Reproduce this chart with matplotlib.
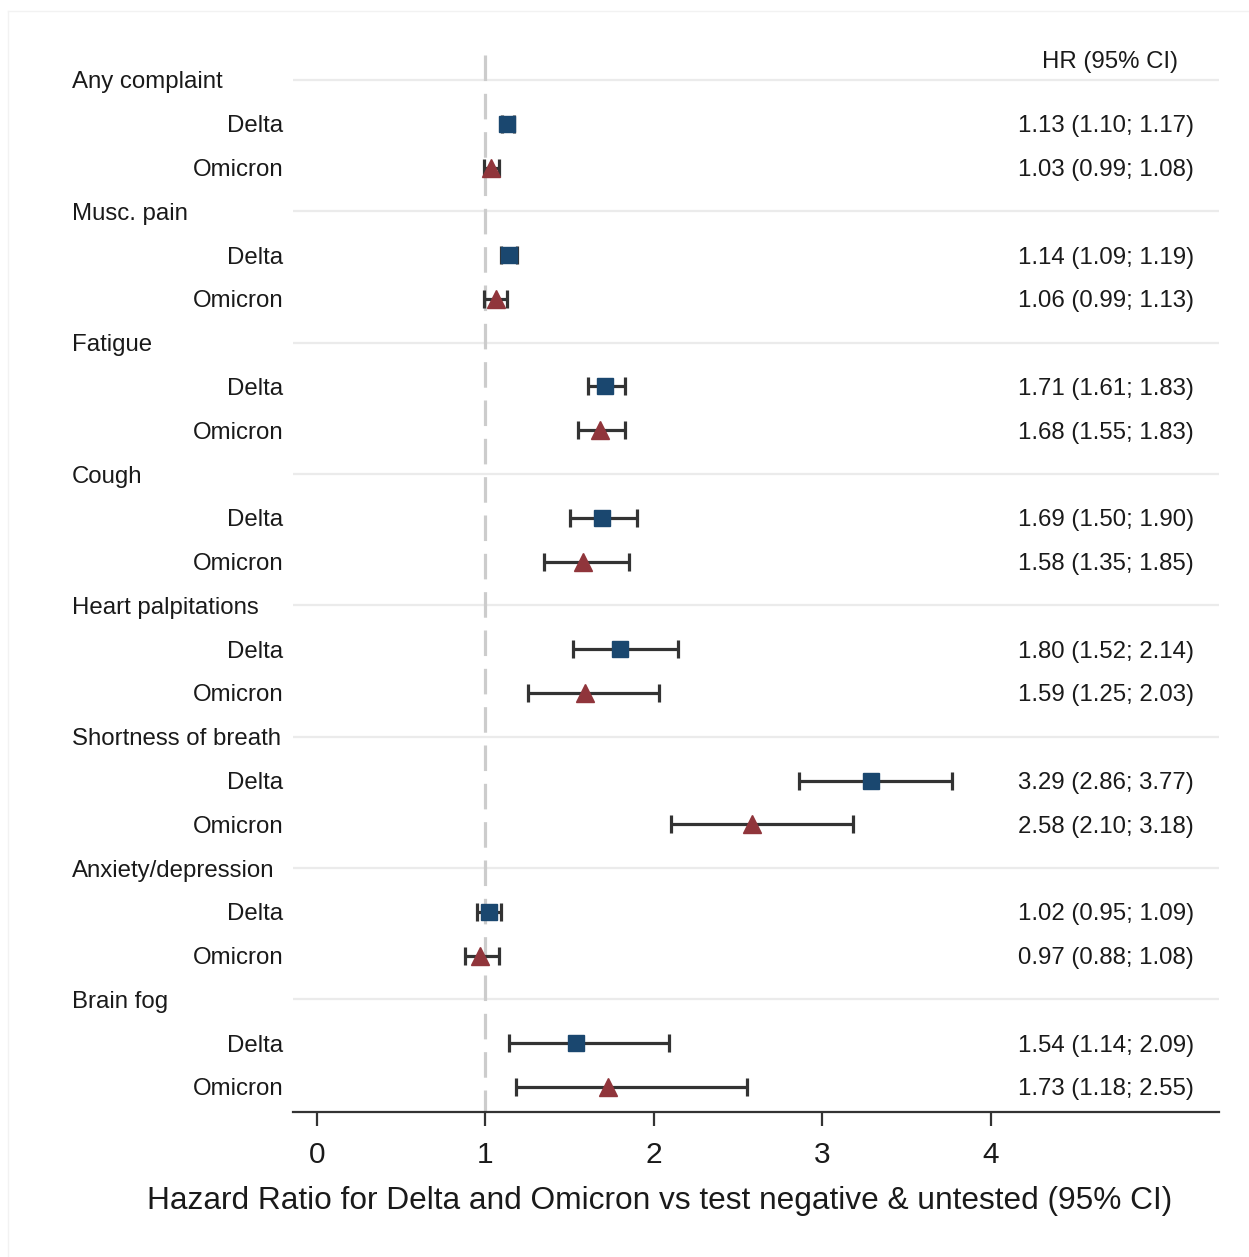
import numpy as np
from matplotlib import pyplot as plt
from matplotlib import transforms

plt.rcParams['font.family'] = ['Liberation Sans', 'DejaVu Sans']

groups = ["Any complaint", "Musc. pain", "Fatigue", "Cough",
          "Heart palpitations", "Shortness of breath", "Anxiety/depression", "Brain fog"]
variants = ["Delta", "Omicron"]

delta_hr = [1.13, 1.14, 1.71, 1.69, 1.80, 3.29, 1.02, 1.54]
delta_lo = [1.10, 1.09, 1.61, 1.50, 1.52, 2.86, 0.95, 1.14]
delta_hi = [1.17, 1.19, 1.83, 1.90, 2.14, 3.77, 1.09, 2.09]

omicron_hr = [1.03, 1.06, 1.68, 1.58, 1.59, 2.58, 0.97, 1.73]
omicron_lo = [0.99, 0.99, 1.55, 1.35, 1.25, 2.10, 0.88, 1.18]
omicron_hi = [1.08, 1.13, 1.83, 1.85, 2.03, 3.18, 1.08, 2.55]

xticks = [0, 1, 2, 3, 4]

W, H = 1249, 1257
fig = plt.figure(figsize=(W / 100, H / 100), dpi=100)
ax = fig.add_axes([293 / W, 1 - 1111.5 / H, (1219 - 293) / W, (1111.5 - 40) / H])

txt = '#1a1a1a'
blue = '#1a476f'
red = '#90353b'
barc = '#333333'

n = len(groups)
head_y = np.arange(n) * 3
d_y = head_y + 1
o_y = head_y + 2

ax.set_xlim(-0.142, 5.353)
ax.set_ylim(3 * n - 1 + 0.56, -0.913)

# separators + reference line
ax.hlines(head_y, -0.142, 5.353, color='#ebebeb', lw=1.6, zorder=1)
ax.plot([1, 1], [-0.57, 3 * n - 1 + 0.56], color='#cccccc', lw=2.3,
        dashes=(8.0, 4.0), zorder=2)

def draw(hr, lo, hi, ys, col, mk, ms):
    hr = np.array(hr)
    err = [hr - np.array(lo), np.array(hi) - hr]
    ax.errorbar(hr, ys, xerr=err, fmt='none', ecolor=barc, elinewidth=2.3,
                capsize=6.8, capthick=2.3, zorder=3)
    ax.plot(hr, ys, ls='none', marker=mk, ms=ms, color=col, mec=col, zorder=4)

draw(delta_hr, delta_lo, delta_hi, d_y, blue, 's', 11)
draw(omicron_hr, omicron_lo, omicron_hi, o_y, red, '^', 12.5)

# labels
fs = 17.3
tr = transforms.blended_transform_factory(fig.transFigure, ax.transData)
for i, g in enumerate(groups):
    ax.text(72 / W, head_y[i], g, transform=tr, ha='left', va='center_baseline',
            fontsize=fs, color=txt)
    ax.text(283 / W, d_y[i], variants[0], transform=tr, ha='right', va='center_baseline',
            fontsize=fs, color=txt)
    ax.text(283 / W, o_y[i], variants[1], transform=tr, ha='right', va='center_baseline',
            fontsize=fs, color=txt)
    ax.text(1194 / W, d_y[i], f"{delta_hr[i]:.2f} ({delta_lo[i]:.2f}; {delta_hi[i]:.2f})",
            transform=tr, ha='right', va='center_baseline', fontsize=fs, color=txt)
    ax.text(1194 / W, o_y[i], f"{omicron_hr[i]:.2f} ({omicron_lo[i]:.2f}; {omicron_hi[i]:.2f})",
            transform=tr, ha='right', va='center_baseline', fontsize=fs, color=txt)

ax.text(1110 / W, -0.46, "HR (95% CI)", transform=tr, ha='center', va='center_baseline',
        fontsize=fs, color=txt)

# axis
for s in ['top', 'right', 'left']:
    ax.spines[s].set_visible(False)
ax.spines['bottom'].set_linewidth(1.6)
ax.spines['bottom'].set_color(barc)
ax.set_yticks([])
ax.set_xticks(xticks)
ax.set_xticklabels([str(t) for t in xticks])
ax.tick_params(axis='x', length=10, width=1.6, color=barc, pad=11,
               labelsize=21.5, labelcolor=txt)

fig.text(659.5 / W, 1 - 1197 / H, "Hazard Ratio for Delta and Omicron vs test negative & untested (95% CI)",
         ha='center', va='center_baseline', fontsize=22.8, color=txt)

# faint outer frame
fig.add_artist(plt.Line2D([8 / W, 8 / W], [0, 1 - 11 / H], transform=fig.transFigure,
                          color='#f2f2f2', lw=1))
fig.add_artist(plt.Line2D([8 / W, 1], [1 - 11 / H, 1 - 11 / H], transform=fig.transFigure,
                          color='#f2f2f2', lw=1))

fig.savefig('out.png', dpi=100)
